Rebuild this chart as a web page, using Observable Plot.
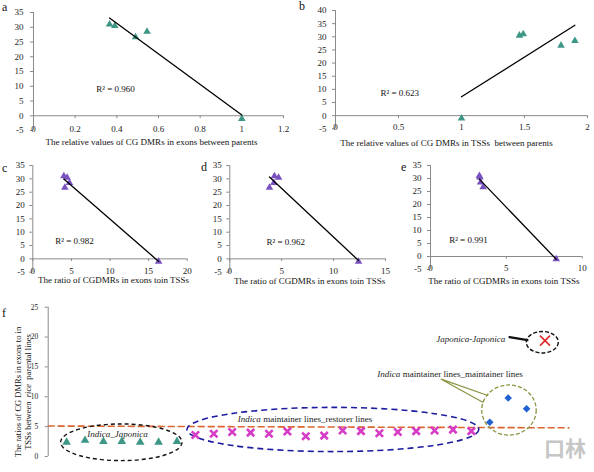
<!DOCTYPE html>
<html><head><meta charset="utf-8">
<script src="https://cdn.jsdelivr.net/npm/d3@7"></script>
<script src="https://cdn.jsdelivr.net/npm/@observablehq/plot@0.6"></script>
<style>
body{margin:0;background:#fff;}
#chart{position:relative;width:594px;height:472px;overflow:hidden;font-family:"Liberation Serif",serif;background:#fff;}
.panel{position:absolute;}
.lbl{position:absolute;font-size:12px;line-height:12px;color:#111;font-family:"Liberation Serif",serif;}
.wm{position:absolute;left:544px;top:434px;font-size:21px;line-height:26px;font-weight:bold;color:#c6c6c6;font-family:"Noto Sans CJK SC",sans-serif;white-space:nowrap;}
.ylab{position:absolute;width:140px;height:22px;left:-45.7px;top:381px;font-size:8.5px;line-height:10px;text-align:center;color:#111;transform:rotate(-90deg);font-family:"Liberation Serif",serif;white-space:pre;}
</style></head><body><div id="chart"></div>
<script>
// ---- data ----
const hybridY = [31, 30.5, 26.7, 28.5, -1];           // y values shared by panels a-e
const relExonX = [0.365, 0.39, 0.49, 0.545, 1.0];     // panel a
const relTssX  = [1.49, 1.46, 1.79, 1.90, 1.0];       // panel b
const ratioC   = [4.02, 4.45, 4.15, 4.75, 16.3];      // panel c
const ratioD   = [4.3, 4.7, 3.82, 4.24, 12.4];        // panel d
const ratioE   = [3.22, 3.26, 3.47, 3.3, 8.29];       // panel e
const r2Labels = ["R² = 0.960", "R² = 0.623", "R² = 0.982", "R² = 0.962", "R² = 0.991"];
const xLabels = [
  "The relative values of CG DMRs in exons between parents",
  "The relative values of CG DMRs in TSSs  between parents",
  "The ratio of CGDMRs in exons toin TSSs",
  "The ratio of CGDMRs in exons toin TSSs",
  "The ratio of CGDMRs in exons toin TSSs"
];
const ticksA = [0, 0.2, 0.4, 0.6, 0.8, 1, 1.2];
const ticksB = [0, 0.5, 1, 1.5, 2];
const ticksC = [0, 5, 10, 15, 20];
const ticksD = [0, 5, 10, 15];
const ticksE = [0, 5, 10];
const yTicks35 = [-5, 0, 5, 10, 15, 20, 25, 30, 35];
const yTicks40 = [-5, 0, 5, 10, 15, 20, 25, 30, 35, 40];

// panel f
const indicaJaponica = [2.4, 2.7, 2.5, 2.5, 2.4, 2.4, 2.5];
const maintRestorer = [3.6, 3.8, 4.1, 4.0, 3.8, 4.2, 3.4, 3.5, 4.35, 4.25, 3.9, 4.1, 4.25, 4.35, 4.5, 4.25];
const maintMaint = [5.75, 9.8, 8.0];
const japJap = [19.4];
const thresholdLine = [[0, 5.1], [28.3, 4.8]];
const fYTicks = [0, 5, 10, 15, 20, 25];
const fYLabelLines = ["The ratios of CG DMRs in exons to in", "TSSs between  ", "rice", "  parental lines"];

const chart = document.getElementById("chart");
const serif = '"Liberation Serif", "Times New Roman", serif';
const axisGrey = "#8a8a8a";

function place(node, left, top) {
  const d = document.createElement("div");
  d.className = "panel"; d.style.left = left + "px"; d.style.top = top + "px";
  d.appendChild(node); chart.appendChild(d);
}
function letter(t, left, top) {
  const d = document.createElement("div");
  d.className = "lbl"; d.textContent = t; d.style.left = left + "px"; d.style.top = top + "px";
  chart.appendChild(d);
}

function panel(o) {
  const data = o.xs.map((x, i) => ({x, y: hybridY[i]}));
  const span = o.yDomain[1] - o.yDomain[0];
  return Plot.plot({
    width: o.width, height: o.height,
    marginLeft: o.ml, marginRight: o.mr, marginTop: o.mt, marginBottom: o.mb,
    style: {fontFamily: serif, fontSize: "9px", background: "transparent", color: "#222", overflow: "visible"},
    x: {domain: o.xDomain}, y: {domain: o.yDomain},
    marks: [
      Plot.ruleX([o.xDomain[0]], {stroke: axisGrey}),
      Plot.ruleY([0], {stroke: axisGrey}),
      Plot.ruleX(o.xTicks, {x: d => d, y1: 0, y2: -span * 0.025, stroke: axisGrey}),
      Plot.axisY({ticks: o.yTicks, tickSize: 3, tickPadding: o.tp, stroke: axisGrey, fill: "#222", label: null, tickFormat: d => String(d)}),
      Plot.axisX({ticks: o.xTicks, tickSize: 0, tickPadding: 0, dy: -5, fill: "#222", label: null, tickFormat: d => String(d)}),
      Plot.dot(data, {x: "x", y: "y", symbol: "triangle", fill: o.color, r: 2.8}),
      Plot.linearRegressionY(data, {x: "x", y: "y", ci: 0, stroke: "#000", strokeWidth: 1.3}),
      Plot.text([o.r2], {x: o.r2x, y: o.r2y, text: d => d, fill: "#111"}),
      Plot.text([o.xLabel], {frameAnchor: "bottom", text: d => d, dx: o.ldx, dy: o.ldy, fill: "#111"})
    ]
  });
}

const teal = "#3d9787", purple = "#7a52c0";

place(panel({xs: relExonX, xDomain: [0, 1.2], xTicks: ticksA, yDomain: [-5, 35], yTicks: yTicks35, color: teal,
  width: 294, height: 150, ml: 33, mr: 11, mt: 12, mb: 20, tp: 7,
  r2: r2Labels[0], r2x: 0.394, r2y: 9.2, xLabel: xLabels[0], ldx: -7, ldy: 14}), 0, 0);
place(panel({xs: relTssX, xDomain: [0, 2], xTicks: ticksB, yDomain: [-5, 40], yTicks: yTicks40, color: teal,
  width: 300, height: 150, ml: 41, mr: 7, mt: 10, mb: 21.7, tp: 6,
  r2: r2Labels[1], r2x: 0.51, r2y: 8.7, xLabel: xLabels[1], ldx: -15, ldy: 17}), 294, 0);
place(panel({xs: ratioC, xDomain: [0, 20], xTicks: ticksC, yDomain: [-5, 35], yTicks: yTicks35, color: purple,
  width: 195, height: 150, ml: 32.3, mr: 8.3, mt: 15, mb: 28.3, tp: 5,
  r2: r2Labels[2], r2x: 5.4, r2y: 6.6, xLabel: xLabels[2], ldx: 3.5, ldy: 11}), 0, 150);
place(panel({xs: ratioD, xDomain: [0, 15], xTicks: ticksD, yDomain: [-5, 35], yTicks: yTicks35, color: purple,
  width: 195, height: 150, ml: 34.3, mr: 5, mt: 15, mb: 28.3, tp: 5,
  r2: r2Labels[3], r2x: 5.4, r2y: 6.3, xLabel: xLabels[3], ldx: 2, ldy: 11.6}), 195, 150);
place(panel({xs: ratioE, xDomain: [0, 10], xTicks: ticksE, yDomain: [-5, 35], yTicks: yTicks35, color: purple,
  width: 204, height: 150, ml: 40, mr: 12.3, mt: 15, mb: 31, tp: 6,
  r2: r2Labels[4], r2x: 2.5, r2y: 6.2, xLabel: xLabels[4], ldx: -2.5, ldy: 14}), 390, 150);

// ---- panel f ----
const ellipse = (cx, cy, rx, ry, stroke, dash, sw) => (index, scales) => {
  const sx = scales.x, sy = scales.y;
  const X = sx(cx), Y = sy(cy);
  const RX = Math.abs(sx(cx + rx) - X), RY = Math.abs(sy(cy + ry) - Y);
  const e = document.createElementNS("http://www.w3.org/2000/svg", "ellipse");
  e.setAttribute("cx", X); e.setAttribute("cy", Y); e.setAttribute("rx", RX); e.setAttribute("ry", RY);
  e.setAttribute("fill", "none"); e.setAttribute("stroke", stroke);
  e.setAttribute("stroke-width", sw); e.setAttribute("stroke-dasharray", dash);
  return e;
};

const fTri = indicaJaponica.map((y, i) => ({x: i + 1, y}));
const fRest = maintRestorer.map((y, i) => ({x: i + 1 + indicaJaponica.length, y}));
const fMaint = maintMaint.map((y, i) => ({x: i + 1 + indicaJaponica.length + maintRestorer.length, y}));
const fJap = japJap.map((y, i) => ({x: i + 1 + indicaJaponica.length + maintRestorer.length + maintMaint.length, y}));

const fPlot = Plot.plot({
  width: 594, height: 172,
  marginLeft: 47.7, marginRight: 12.7, marginTop: 6.7, marginBottom: 16,
  style: {fontFamily: serif, fontSize: "9px", background: "transparent", color: "#222", overflow: "visible"},
  x: {domain: [0, 29], axis: null}, y: {domain: [0, 25]},
  marks: [
    Plot.ruleX([0], {stroke: axisGrey}),
    Plot.axisY({ticks: fYTicks, tickSize: 3, tickPadding: 7, stroke: axisGrey, fill: "#222", fontSize: 7.5, label: null, tickFormat: d => String(d)}),
    Plot.line(thresholdLine, {x: d => d[0], y: d => d[1], stroke: "#dc6530", strokeWidth: 1.6, strokeDasharray: "6,4"}),
    ellipse(4.0, 2.3, 3.3, 3.07, "#111", "4,3", 1.4),
    ellipse(15.5, 4.44, 7.93, 3.7, "#1c1ca0", "6,4", 1.6),
    ellipse(25.07, 7.7, 1.48, 4.2, "#8c9440", "4,2", 1.3),
    ellipse(26.88, 19.05, 0.87, 1.8, "#111", "4,2", 1.4),
    Plot.line([[23.89, 10.22], [21.36, 12.95], [23.62, 9.1]], {x: d => d[0], y: d => d[1], stroke: "#8c9440", strokeWidth: 1.2}),
    Plot.line([[25.07, 19.98], [26.05, 19.5]], {x: d => d[0], y: d => d[1], stroke: "#111", strokeWidth: 2.2}),
    Plot.dot(fTri, {x: "x", y: "y", symbol: "triangle", fill: teal, r: 3.2}),
    Plot.dot(fRest, {x: "x", y: "y", symbol: "times", stroke: "#d63cc6", strokeWidth: 2.6, r: 3.4}),
    Plot.dot(fMaint, {x: "x", y: "y", symbol: "diamond2", fill: "#2060d0", r: 3.4}),
    Plot.dot(fJap, {x: "x", y: "y", symbol: "times", stroke: "#e02828", strokeWidth: 1.6, r: 4.6}),
    Plot.text(["Indica_Japonica"], {x: 3.77, y: 3.69, text: d => d, fontStyle: "italic", fill: "#222"}),
    Plot.text(["Indica"], {x: 10.3, y: 6.2, text: d => d, textAnchor: "start", fontStyle: "italic", fill: "#222"}),
    Plot.text(["maintainer lines_restorer lines"], {x: 10.3, y: 6.2, text: d => d, textAnchor: "start", dx: 25.5, fill: "#222"}),
    Plot.text(["Indica"], {x: 17.88, y: 13.73, text: d => d, textAnchor: "start", fontStyle: "italic", fill: "#222"}),
    Plot.text(["maintainer lines_maintainer lines"], {x: 17.88, y: 13.73, text: d => d, textAnchor: "start", dx: 25.5, fill: "#222"}),
    Plot.text(["Japonica-Japonica"], {x: 24.84, y: 19.7, text: d => d, textAnchor: "end", fontStyle: "italic", fill: "#222"})
  ]
});
place(fPlot, 0, 300);

// rotated y label of panel f (two lines, "rice" italic)
const yl = document.createElement("div"); yl.className = "ylab";
yl.appendChild(document.createTextNode(fYLabelLines[0]));
yl.appendChild(document.createElement("br"));
yl.appendChild(document.createTextNode(fYLabelLines[1]));
const it = document.createElement("i"); it.textContent = fYLabelLines[2]; yl.appendChild(it);
yl.appendChild(document.createTextNode(fYLabelLines[3]));
chart.appendChild(yl);

letter("a", 2, 1); letter("b", 299, 0);
letter("c", 2, 162); letter("d", 201, 161); letter("e", 401, 161);
letter("f", 2, 307);
const wm = document.createElement("div"); wm.className = "wm"; wm.textContent = "口林"; chart.appendChild(wm);
</script></body></html>
